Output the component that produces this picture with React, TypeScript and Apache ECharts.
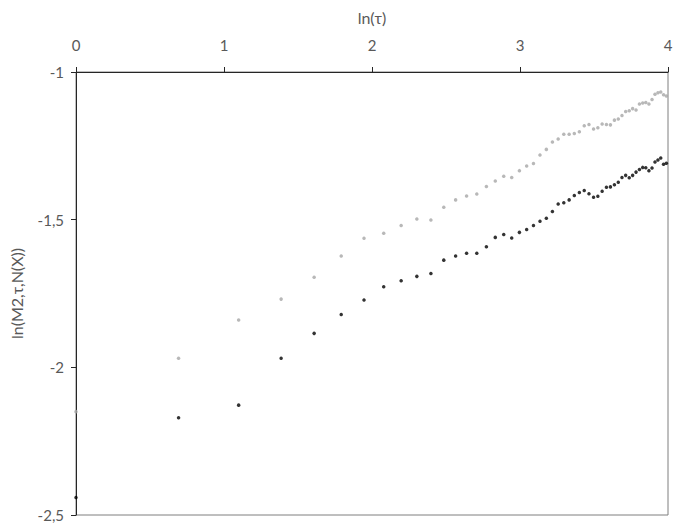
import React, { useEffect, useRef } from "react";
import * as echarts from "echarts";

// x values: ln(τ)
const lnTau: number[] = [
  0, 0.693, 1.099, 1.386, 1.609, 1.792, 1.946, 2.079, 2.197, 2.303,
  2.398, 2.485, 2.565, 2.639, 2.708, 2.773, 2.833, 2.890, 2.944, 2.996,
  3.045, 3.091, 3.135, 3.178, 3.219, 3.258, 3.296, 3.332, 3.367, 3.401,
  3.434, 3.466, 3.497, 3.526, 3.555, 3.584, 3.611, 3.638, 3.664, 3.689,
  3.714, 3.738, 3.761, 3.784, 3.807, 3.829, 3.850, 3.871, 3.892, 3.912,
  3.932, 3.951, 3.970, 3.989,
];

const graySeries: number[] = [
  -2.150, -1.969, -1.840, -1.769, -1.695, -1.623, -1.563, -1.546, -1.520, -1.498,
  -1.501, -1.458, -1.433, -1.420, -1.413, -1.388, -1.369, -1.353, -1.357, -1.334,
  -1.318, -1.310, -1.281, -1.262, -1.237, -1.227, -1.211, -1.211, -1.208, -1.202,
  -1.182, -1.178, -1.193, -1.189, -1.176, -1.178, -1.179, -1.163, -1.159, -1.147,
  -1.134, -1.131, -1.124, -1.129, -1.108, -1.105, -1.103, -1.108, -1.093, -1.075,
  -1.070, -1.068, -1.077, -1.081,
];

const blackSeries: number[] = [
  -2.441, -2.171, -2.128, -1.969, -1.885, -1.821, -1.772, -1.727, -1.707, -1.692,
  -1.682, -1.637, -1.623, -1.614, -1.614, -1.592, -1.560, -1.550, -1.562, -1.543,
  -1.533, -1.520, -1.505, -1.495, -1.472, -1.447, -1.443, -1.433, -1.418, -1.408,
  -1.401, -1.412, -1.424, -1.421, -1.404, -1.390, -1.389, -1.382, -1.373, -1.357,
  -1.350, -1.358, -1.350, -1.339, -1.330, -1.323, -1.324, -1.334, -1.325, -1.305,
  -1.298, -1.291, -1.312, -1.309,
];

const xTicks = { min: 0, max: 4, interval: 1 };
const yTicks = { min: -2.5, max: -1, interval: 0.5 };

export default function App() {
  const ref = useRef<HTMLDivElement>(null);
  useEffect(() => {
    document.body.style.margin = "0";
    if (!ref.current) return;
    const chart = echarts.init(ref.current, null, { renderer: "svg" });
    const font = "Lato, 'Open Sans', sans-serif";
    chart.setOption({
      animation: false,
      backgroundColor: "#ffffff",
      grid: {
        left: 71,
        right: 10,
        top: 72,
        bottom: 12,
        show: true,
        borderColor: "#7f7f7f",
        borderWidth: 1,
      },
      xAxis: {
        type: "value",
        position: "top",
        min: xTicks.min,
        max: xTicks.max,
        interval: xTicks.interval,
        name: "ln(τ)",
        nameLocation: "middle",
        nameGap: 47,
        nameTextStyle: { color: "#595959", fontSize: 16, fontFamily: font },
        axisLine: { show: true, onZero: false, lineStyle: { color: "#262626", width: 1 } },
        axisTick: { show: true, length: 5, lineStyle: { color: "#262626" } },
        axisLabel: { color: "#595959", fontSize: 15, fontFamily: font, margin: 20 },
        splitLine: { show: false },
      },
      yAxis: {
        type: "value",
        min: yTicks.min,
        max: yTicks.max,
        interval: yTicks.interval,
        name: "ln(M2,τ,N(X))",
        nameLocation: "middle",
        nameRotate: 90,
        nameGap: 52,
        nameTextStyle: { color: "#595959", fontSize: 16, fontFamily: font },
        axisLine: { show: true, onZero: false, lineStyle: { color: "#262626", width: 1 } },
        axisTick: { show: true, length: 5, lineStyle: { color: "#262626" } },
        axisLabel: {
          color: "#595959",
          fontSize: 15,
          fontFamily: font,
          margin: 12,
          formatter: (v: number) => String(v).replace(".", ","),
        },
        splitLine: { show: false },
      },
      series: [
        {
          type: "scatter",
          name: "gray",
          symbol: "circle",
          symbolSize: 3.5,
          itemStyle: { color: "#a6a6a6" },
          data: lnTau.map((x, i) => [x, graySeries[i]]),
        },
        {
          type: "scatter",
          name: "black",
          symbol: "circle",
          symbolSize: 3.5,
          itemStyle: { color: "#000000" },
          data: lnTau.map((x, i) => [x, blackSeries[i]]),
        },
      ],
    });
    return () => chart.dispose();
  }, []);
  return <div ref={ref} style={{ width: 678, height: 527 }} />;
}
